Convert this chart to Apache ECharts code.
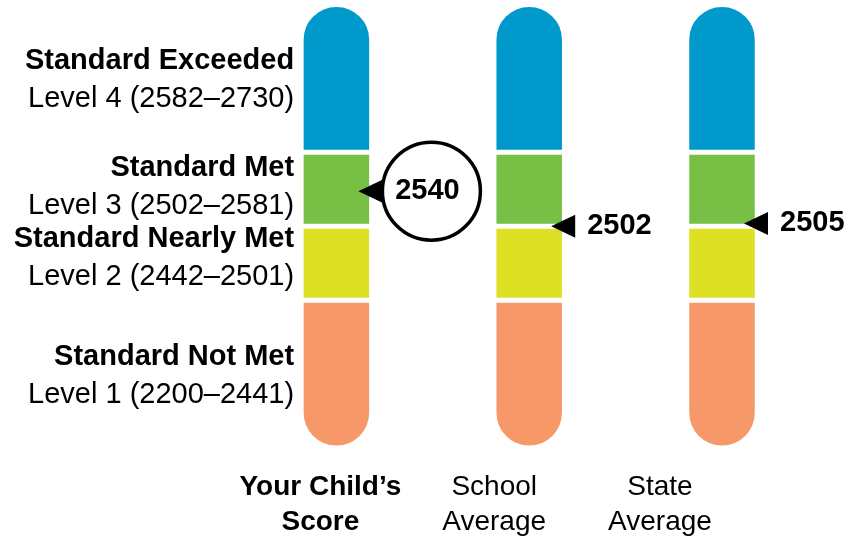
<!DOCTYPE html>
<html>
<head>
<meta charset="utf-8">
<script src="https://cdn.jsdelivr.net/npm/echarts@6/dist/echarts.min.js"></script>
<style>
  html, body { margin: 0; padding: 0; background: #fff; }
  #chart { width: 863px; height: 537px; }
</style>
</head>
<body>
<div id="chart"></div>
<script>
// ---- Data ----
const categories = ["Your Child\u2019s\nScore", "School\nAverage", "State\nAverage"];
const levelNames = ["Standard Not Met", "Standard Nearly Met", "Standard Met", "Standard Exceeded"];
const levelRanges = ["Level 1 (2200\u20132441)", "Level 2 (2442\u20132501)", "Level 3 (2502\u20132581)", "Level 4 (2582\u20132730)"];
const levelMin = [2200, 2442, 2502, 2582];
const levelMax = [2441, 2501, 2581, 2730];
const levelBands = [2, 1, 1, 2];            // schematic band heights of each level on the bars
const scores = [2540, 2502, 2505];

// ---- scale: score -> schematic band units ----
function toUnits(score) {
  let base = 0;
  for (let i = 0; i < levelMin.length; i++) {
    const lo = levelMin[i], hi = levelMax[i] + 1;
    if (score < hi || i === levelMin.length - 1) {
      return base + (score - lo) / (hi - lo) * levelBands[i];
    }
    base += levelBands[i];
  }
  return base;
}
const totalUnits = levelBands.reduce((a, b) => a + b, 0);

// ---- styles ----
const levelColors = ["#F79868", "#DEE023", "#77BF45", "#0099CC"];
const FONT = 'Liberation Sans, Arial, Helvetica, sans-serif';
const labelOffsets = [[0, 2], [0, -5], [0, -2], [0, 2]];
const catLabelShift = [32, 70, 124];   // right padding that shifts the category labels left

const chart = echarts.init(document.getElementById('chart'), null, { renderer: 'canvas' });

const barSeries = levelBands.map((b, li) => {
  const last = li === levelBands.length - 1;
  const first = li === 0;
  return {
    type: 'bar',
    name: levelNames[li],
    stack: 'levels',
    barWidth: 70.5,
    itemStyle: {
      color: levelColors[li],
      borderColor: '#ffffff',
      borderWidth: 2.5,
      borderRadius: last ? [35, 35, 0, 0] : (first ? [0, 0, 35, 35] : 0)
    },
    data: categories.map((c, ci) => ci === 0 ? {
      value: b,
      label: {
        show: true,
        position: 'left',
        distance: 7,
        offset: labelOffsets[li],
        formatter: '{n|' + levelNames[li] + '}\n{r|' + levelRanges[li] + '}',
        rich: {
          n: { fontFamily: FONT, fontSize: 29, fontWeight: 'bold', color: '#000', lineHeight: 38, align: 'right' },
          r: { fontFamily: FONT, fontSize: 29, color: '#000', lineHeight: 38, align: 'right' }
        }
      }
    } : b),
    emphasis: { disabled: true },
    z: 2
  };
});

const option = {
  animation: false,
  backgroundColor: '#ffffff',
  grid: { left: 240, right: 44.6, top: 4.5, bottom: 89, containLabel: false },
  xAxis: {
    type: 'category',
    data: categories,
    axisLine: { show: false },
    axisTick: { show: false },
    splitLine: { show: false },
    axisLabel: {
      interval: 0,
      margin: 22,
      color: '#000',
      formatter: (v, i) => '{s' + i + '|' + v + '}',
      rich: {
        s0: { fontFamily: FONT, fontSize: 28, fontWeight: 'bold', color: '#000', lineHeight: 35, padding: [0, catLabelShift[0], 0, 0] },
        s1: { fontFamily: FONT, fontSize: 28, color: '#000', lineHeight: 35, padding: [0, catLabelShift[1], 0, 0] },
        s2: { fontFamily: FONT, fontSize: 28, color: '#000', lineHeight: 35, padding: [0, catLabelShift[2], 0, 0] }
      }
    }
  },
  yAxis: {
    type: 'value',
    min: 0,
    max: totalUnits,
    show: false,
    splitLine: { show: false }
  },
  series: barSeries.concat([
    {
      type: 'scatter',
      name: 'circle',
      symbol: 'circle',
      symbolSize: 98,
      symbolOffset: [95, 0],
      itemStyle: { color: '#ffffff', borderColor: '#000000', borderWidth: 3.5, opacity: 1 },
      label: {
        show: true,
        position: 'inside',
        offset: [-4, 0],
        formatter: (p) => String(scores[p.dataIndex]),
        fontFamily: FONT, fontSize: 29, fontWeight: 'bold', color: '#000'
      },
      data: [[0, toUnits(scores[0])]],
      emphasis: { disabled: true },
      z: 3
    },
    {
      type: 'scatter',
      name: 'markers',
      symbol: 'path://M0,6L12,0L12,12Z',
      symbolSize: [24, 23],
      symbolOffset: [34, 0],
      itemStyle: { color: '#000000', opacity: 1 },
      data: scores.map((s, i) => ({
        value: [i, toUnits(s)],
        label: {
          show: i !== 0,
          position: 'right',
          distance: 12,
          formatter: String(s),
          fontFamily: FONT, fontSize: 29, fontWeight: 'bold', color: '#000'
        }
      })),
      emphasis: { disabled: true },
      z: 4
    }
  ])
};

chart.setOption(option);
</script>
</body>
</html>
